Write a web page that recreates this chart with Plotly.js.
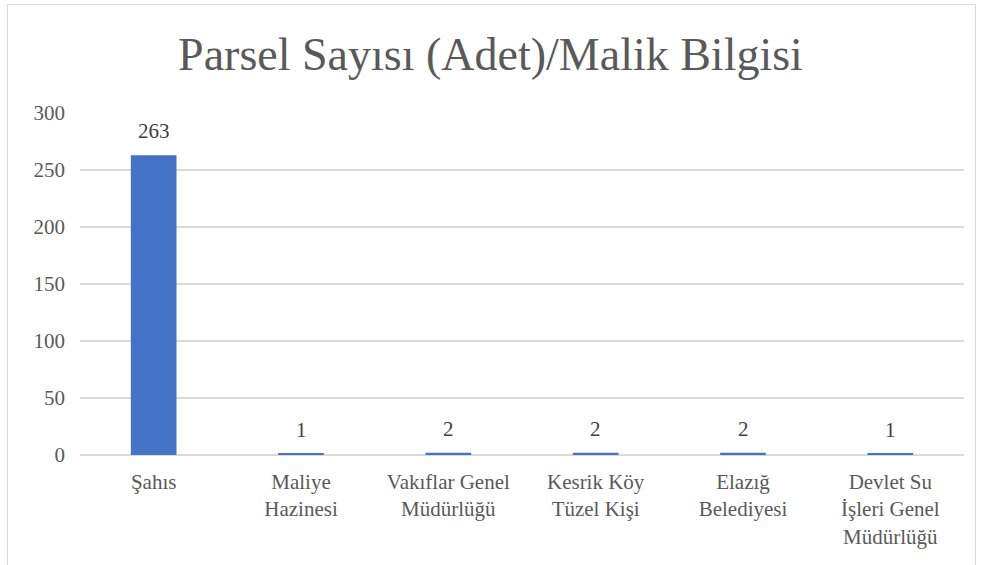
<!DOCTYPE html>
<html>
<head>
<meta charset="utf-8">
<script src="https://cdn.plot.ly/plotly-3.0.1.min.js"></script>
<style>
html,body{margin:0;padding:0;background:#fff;overflow:hidden;}
#frame{position:absolute;left:7px;top:4px;width:969px;height:600px;border:1px solid #d9d9d9;box-sizing:border-box;pointer-events:none;}
</style>
</head>
<body>
<div id="chart" style="width:981px;height:565px"></div>
<div id="frame"></div>
<script>
const categories = ["Şahıs", "Maliye<br>Hazinesi", "Vakıflar Genel<br>Müdürlüğü", "Kesrik Köy<br>Tüzel Kişi", "Elazığ<br>Belediyesi", "Devlet Su<br>İşleri Genel<br>Müdürlüğü"];
const values = [263, 1, 2, 2, 2, 1];
const yTicks = [0, 50, 100, 150, 200, 250, 300];
const titleText = "Parsel Sayısı (Adet)/Malik Bilgisi";

const serif = 'Liberation Serif';
const trace = {
  type: 'bar',
  x: categories,
  y: values,
  marker: {color: '#4472C4'},
  width: 0.31,
  hoverinfo: 'none'
};
const labels = categories.map((c, i) => ({
  x: c, y: values[i], xref: 'x', yref: 'y',
  text: String(values[i]), showarrow: false,
  yanchor: 'bottom', yshift: 10,
  font: {family: serif, size: 21, color: '#404040'}
}));
const layout = {
  width: 981, height: 565,
  margin: {l: 80, r: 17, t: 113, b: 110},
  paper_bgcolor: '#ffffff',
  plot_bgcolor: '#ffffff',
  showlegend: false,
  font: {family: serif},
  title: {text: titleText, font: {family: serif, size: 46, color: '#595959'}, x: 0.5, xanchor: 'center', y: 0.905, yanchor: 'middle'},
  xaxis: {
    type: 'category',
    tickfont: {family: serif, size: 21, color: '#595959'},
    showgrid: false, showline: false, ticks: '', zeroline: false,
    ticklabelstandoff: 12
  },
  yaxis: {
    range: [0, 300],
    tickvals: yTicks,
    ticktext: yTicks.map(String),
    tickfont: {family: serif, size: 21, color: '#595959'},
    showgrid: true, gridcolor: '#d9d9d9', gridwidth: 1.5,
    zeroline: true, zerolinecolor: '#d9d9d9', zerolinewidth: 1.5,
    showline: false, ticks: '',
    ticklabelstandoff: 14
  },
  annotations: labels
};
Plotly.newPlot('chart', [trace], layout, {displayModeBar: false}).then(function (gd) {
  gd.querySelectorAll('text').forEach(function (t) {
    t.style.setProperty('font-family', "'Liberation Serif', 'Times New Roman', serif", 'important');
    t.setAttribute('font-family', "Liberation Serif, Times New Roman, serif");
  });
});
</script>
</body>
</html>
